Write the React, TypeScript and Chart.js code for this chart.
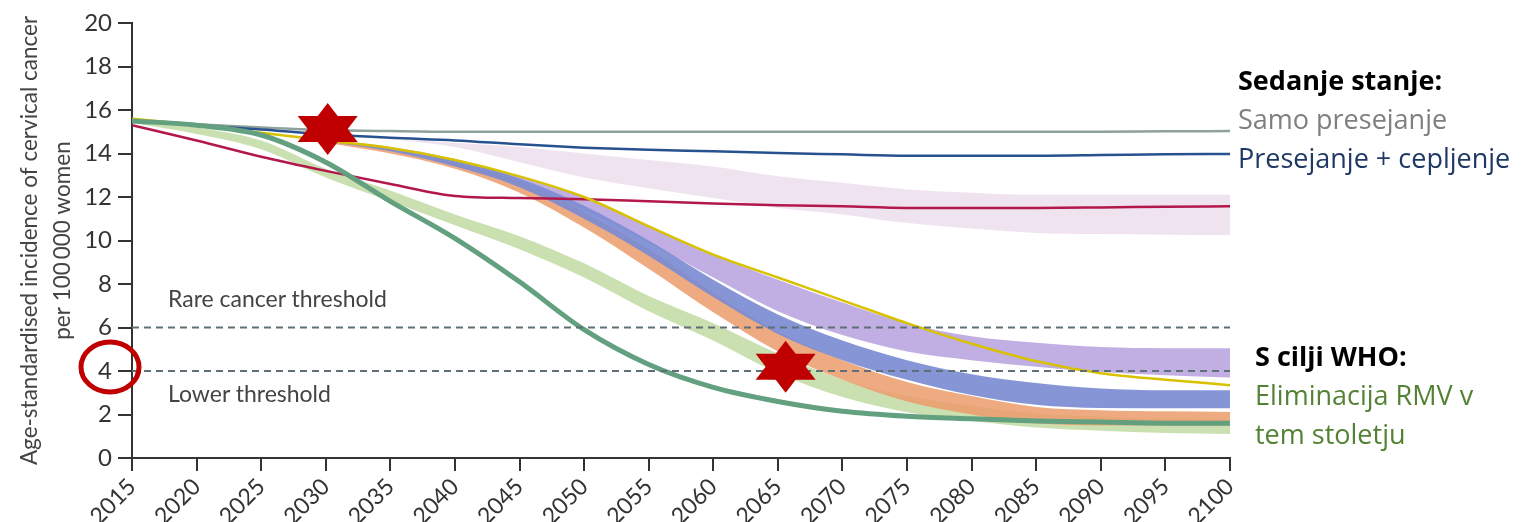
import React, { useEffect, useRef } from 'react';
import { Chart, registerables } from 'chart.js';

Chart.register(...registerables);

// ---------- data ----------
const years = [2015, 2020, 2025, 2030, 2035, 2040, 2045, 2050, 2055, 2060, 2065, 2070, 2075, 2080, 2085, 2090, 2095, 2100];
const bandYears = [2030, 2035, 2040, 2045, 2050, 2055, 2060, 2065, 2070, 2075, 2080, 2085, 2090, 2095, 2100];
const pinkYears = [2035, 2040, 2045, 2050, 2055, 2060, 2065, 2070, 2075, 2080, 2085, 2090, 2095, 2100];

const screeningOnly = [15.55, 15.35, 15.2, 15.08, 15.03, 15.0, 15.0, 15.0, 15.0, 15.0, 15.0, 15.0, 15.0, 15.0, 15.0, 15.0, 15.02, 15.03];
const screeningVaccination = [15.5, 15.3, 15.1, 14.88, 14.72, 14.6, 14.42, 14.27, 14.17, 14.1, 14.02, 13.96, 13.9, 13.9, 13.9, 13.93, 13.97, 13.98];
const redScenario = [15.3, 14.6, 13.85, 13.2, 12.6, 12.05, 11.95, 11.9, 11.8, 11.7, 11.62, 11.57, 11.5, 11.5, 11.5, 11.52, 11.55, 11.57];
const yellowScenario = [15.6, 15.3, 14.95, 14.6, 14.25, 13.7, 12.95, 12.0, 10.65, 9.35, 8.3, 7.25, 6.2, 5.25, 4.45, 3.9, 3.6, 3.35];
const greenScenario = [15.5, 15.3, 14.85, 13.6, 11.8, 10.1, 8.1, 5.9, 4.3, 3.25, 2.6, 2.15, 1.92, 1.8, 1.7, 1.65, 1.6, 1.6];

const lightGreenUpper = [15.6, 15.2, 14.6, 13.3, 12.3, 11.2, 10.2, 8.95, 7.45, 6.2, 4.8, 3.6, 2.85, 2.4, 2.05, 1.9, 1.8, 1.75];
const lightGreenLower = [15.4, 14.9, 14.2, 12.9, 11.8, 10.7, 9.6, 8.3, 6.75, 5.4, 3.9, 2.8, 2.1, 1.7, 1.4, 1.25, 1.15, 1.1];

const pinkUpper = [14.65, 14.5, 14.3, 14.0, 13.7, 13.4, 12.95, 12.65, 12.35, 12.2, 12.1, 12.1, 12.1, 12.1];
const pinkLower = [14.65, 14.3, 13.6, 12.9, 12.4, 11.95, 11.5, 11.2, 10.8, 10.55, 10.35, 10.3, 10.27, 10.25];
const purpleUpper = [14.65, 14.3, 13.75, 12.95, 12.0, 10.65, 9.35, 8.2, 7.15, 6.2, 5.6, 5.3, 5.1, 5.05, 5.05];
const purpleLower = [14.55, 14.2, 13.5, 12.6, 11.4, 9.9, 8.3, 6.75, 5.65, 4.9, 4.5, 4.2, 3.95, 3.8, 3.7];
const blueUpper = [14.65, 14.25, 13.7, 12.85, 11.6, 10.0, 8.2, 6.6, 5.4, 4.5, 3.85, 3.45, 3.2, 3.12, 3.12];
const blueLower = [14.55, 14.1, 13.4, 12.45, 11.0, 9.3, 7.4, 5.7, 4.5, 3.6, 2.9, 2.45, 2.3, 2.29, 2.29];
const orangeUpper = [14.6, 14.2, 13.6, 12.7, 11.3, 9.6, 7.6, 5.8, 4.5, 3.5, 2.85, 2.35, 2.2, 2.15, 2.12];
const orangeLower = [14.5, 14.0, 13.3, 12.2, 10.6, 8.7, 6.7, 4.9, 3.6, 2.6, 2.0, 1.6, 1.5, 1.5, 1.5];

const thresholds = [6, 4];
const starMarks = [
  { x: 2030.15, y: 15.13 },
  { x: 2065.6, y: 4.2 },
];
const circledTick = 4;

const yTitle = ['Age-standardised incidence of cervical cancer', 'per 100\u2009000 women'];

const pts = (xs: number[], ys: number[]) => xs.map((x, i) => ({ x, y: ys[i] }));

const FONT = 'Lato, "Open Sans", sans-serif';
const LEGEND_FONT = '"Open Sans", Lato, sans-serif';

const annotationPlugin = {
  id: 'annotations',
  afterDatasetsDraw(chart: any) {
    const { ctx, chartArea, scales } = chart;
    ctx.save();
    ctx.strokeStyle = '#5f6f78';
    ctx.lineWidth = 2;
    ctx.setLineDash([7, 5]);
    thresholds.forEach((t) => {
      const y = scales.y.getPixelForValue(t);
      ctx.beginPath();
      ctx.moveTo(chartArea.left, y);
      ctx.lineTo(chartArea.right, y);
      ctx.stroke();
    });
    ctx.restore();
  },
  afterDraw(chart: any) {
    const { ctx, chartArea, scales } = chart;
    ctx.save();
    // y-axis title (two centred lines, rotated)
    const midY = (chartArea.top + chartArea.bottom) / 2;
    ctx.fillStyle = '#444';
    ctx.font = `22.5px ${FONT}`;
    ctx.textAlign = 'center';
    ctx.textBaseline = 'middle';
    yTitle.forEach((t, i) => {
      ctx.save();
      ctx.translate(30 + i * 33, midY);
      ctx.rotate(-Math.PI / 2);
      ctx.fillText(t, 0, 0);
      ctx.restore();
    });

    ctx.fillStyle = '#c00000';
    starMarks.forEach((s) => {
      const cx = scales.x.getPixelForValue(s.x);
      const cy = scales.y.getPixelForValue(s.y);
      const hw = 30;
      const hh = 26;
      const th = 39;
      ctx.beginPath();
      ctx.moveTo(cx, cy - hh);
      ctx.lineTo(cx + hw, cy - hh + th);
      ctx.lineTo(cx - hw, cy - hh + th);
      ctx.closePath();
      ctx.fill();
      ctx.beginPath();
      ctx.moveTo(cx, cy + hh);
      ctx.lineTo(cx + hw, cy + hh - th);
      ctx.lineTo(cx - hw, cy + hh - th);
      ctx.closePath();
      ctx.fill();
    });
    const ry = scales.y.getPixelForValue(circledTick) - 4;
    ctx.strokeStyle = '#c00000';
    ctx.lineWidth = 5;
    ctx.beginPath();
    ctx.ellipse(chartArea.left - 22, ry, 29, 25, 0, 0, Math.PI * 2);
    ctx.stroke();
    ctx.restore();
  },
};

export default function App() {
  const ref = useRef<HTMLCanvasElement>(null);

  useEffect(() => {
    document.body.style.margin = '0';
    Chart.defaults.font.family = FONT;
    const line = (label: string, ys: number[], color: string, width: number) => ({
      label,
      data: pts(years, ys),
      borderColor: color,
      borderWidth: width,
      pointRadius: 0,
      fill: false,
      cubicInterpolationMode: 'monotone',
    });
    const band = (label: string, xs: number[], ys: number[], color: string, fill: any) => ({
      label,
      data: pts(xs, ys),
      borderWidth: 0,
      borderColor: 'rgba(0,0,0,0)',
      backgroundColor: color,
      pointRadius: 0,
      fill,
      cubicInterpolationMode: 'monotone',
    });

    const chart = new Chart(ref.current!, {
      type: 'line',
      data: {
        datasets: [
          line('Green', greenScenario, '#62a07f', 5),
          line('Yellow', yellowScenario, '#d8c200', 2.5),
          line('Red', redScenario, '#b3184b', 2.5),
          line('Presejanje + cepljenje', screeningVaccination, '#27528f', 2.5),
          line('Samo presejanje', screeningOnly, '#8ea19a', 2.5),
          band('Blue band upper', bandYears, blueUpper, 'rgba(124,140,210,0.92)', '+1'),
          band('Blue band lower', bandYears, blueLower, 'rgba(0,0,0,0)', false),
          band('Orange band upper', bandYears, orangeUpper, 'rgba(236,158,112,0.88)', '+1'),
          band('Orange band lower', bandYears, orangeLower, 'rgba(0,0,0,0)', false),
          band('Purple band upper', bandYears, purpleUpper, 'rgba(182,160,222,0.85)', '+1'),
          band('Purple band lower', bandYears, purpleLower, 'rgba(0,0,0,0)', false),
          band('Light green upper', years, lightGreenUpper, 'rgba(190,216,156,0.8)', '+1'),
          band('Light green lower', years, lightGreenLower, 'rgba(0,0,0,0)', false),
          band('Pink upper', pinkYears, pinkUpper, 'rgba(238,224,238,0.9)', '+1'),
          band('Pink lower', pinkYears, pinkLower, 'rgba(0,0,0,0)', false),
        ] as any,
      },
      options: {
        animation: false,
        responsive: true,
        maintainAspectRatio: false,
        layout: { padding: { left: 0, right: 297, top: 23, bottom: 0 } },
        plugins: { legend: { display: false }, tooltip: { enabled: false } },
        scales: {
          x: {
            type: 'linear',
            min: 2015,
            max: 2100,
            ticks: {
              stepSize: 5,
              autoSkip: false,
              maxRotation: 45,
              minRotation: 45,
              color: '#333',
              font: { family: FONT, size: 23 },
              padding: 2,
              callback: (v: any) => String(v),
            },
            grid: { drawOnChartArea: false, drawTicks: true, tickLength: 13, color: '#333', lineWidth: 2 },
            border: { display: true, color: '#333', width: 2 },
            afterFit: (s: any) => {
              s.height = 64;
            },
          },
          y: {
            min: 0,
            max: 20,
            ticks: { stepSize: 2, color: '#333', font: { family: FONT, size: 24 }, padding: 6 },
            grid: { drawOnChartArea: false, drawTicks: true, tickLength: 14, color: '#333', lineWidth: 2 },
            border: { display: true, color: '#333', width: 2 },
            afterFit: (s: any) => {
              s.width = 132;
            },
          },
        } as any,
      },
      plugins: [annotationPlugin],
    });
    return () => chart.destroy();
  }, []);

  const lbl = (text: string, left: number, center: number, color: string, size: number, family: string, bold = false) => (
    <div
      style={{
        position: 'absolute',
        left,
        top: center - size * 0.66,
        fontFamily: family,
        fontSize: size,
        lineHeight: `${size * 1.2}px`,
        fontWeight: bold ? 700 : 400,
        color,
        whiteSpace: 'nowrap',
      }}
    >
      {text}
    </div>
  );

  return (
    <div style={{ position: 'fixed', left: 0, top: 0, width: 1527, height: 522, background: '#fff' }}>
      <canvas ref={ref} style={{ position: 'absolute', left: 0, top: 0 }} />
      {lbl('Rare cancer threshold', 168, 300, '#444', 23, FONT)}
      {lbl('Lower threshold', 168, 395, '#444', 23, FONT)}
      {lbl('Sedanje stanje:', 1238, 82, '#000', 27, LEGEND_FONT, true)}
      {lbl('Samo presejanje', 1238, 121, '#7f7f7f', 27, LEGEND_FONT)}
      {lbl('Presejanje + cepljenje', 1238, 160, '#203864', 27, LEGEND_FONT)}
      {lbl('S cilji WHO:', 1255, 358, '#000', 27, LEGEND_FONT, true)}
      {lbl('Eliminacija RMV v', 1255, 397, '#548235', 27, LEGEND_FONT)}
      {lbl('tem stoletju', 1255, 436, '#548235', 27, LEGEND_FONT)}
    </div>
  );
}
